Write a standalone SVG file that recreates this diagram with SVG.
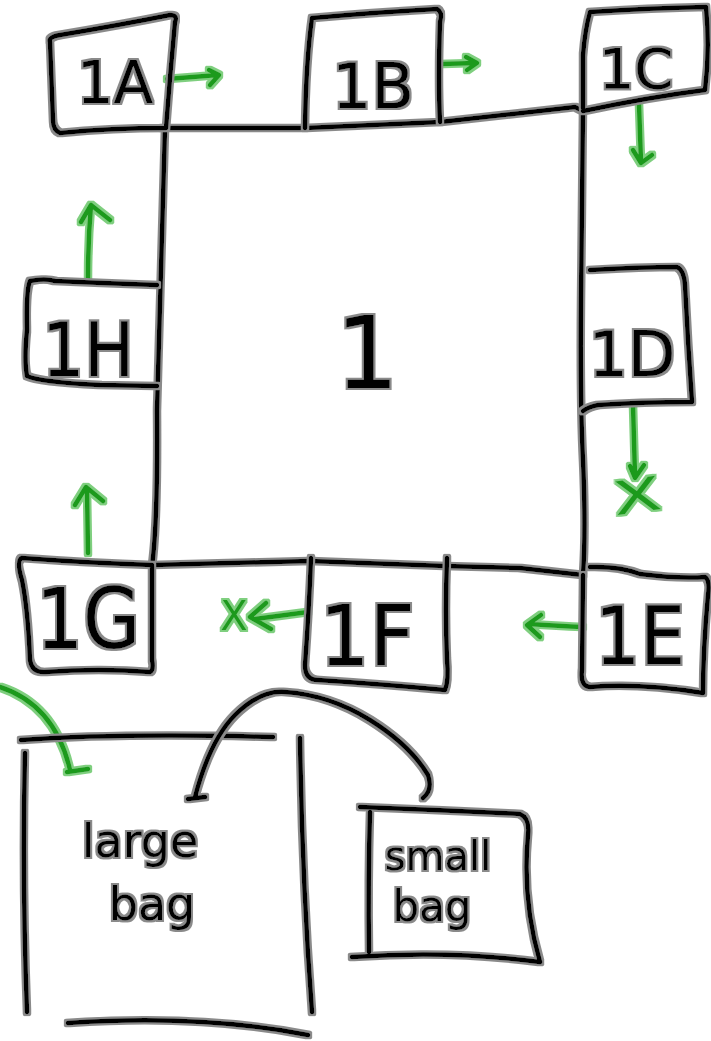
<svg xmlns="http://www.w3.org/2000/svg" width="711" height="1041" viewBox="0 0 711 1041">
<defs>
<filter id="halo" filterUnits="userSpaceOnUse" x="0" y="0" width="711" height="1041">
<feMorphology in="SourceAlpha" operator="dilate" radius="1.6" result="d"/>
<feFlood flood-color="#8a8a8a"/>
<feComposite in2="d" operator="in"/>
<feMerge><feMergeNode/><feMergeNode in="SourceGraphic"/></feMerge>
</filter>
<filter id="ghalo" filterUnits="userSpaceOnUse" x="0" y="0" width="711" height="1041">
<feMorphology in="SourceAlpha" operator="dilate" radius="1.6" result="d"/>
<feFlood flood-color="#7fcf7f"/>
<feComposite in2="d" operator="in"/>
<feMerge><feMergeNode/><feMergeNode in="SourceGraphic"/></feMerge>
</filter>
</defs>
<style>
.k{fill:none;stroke:#000;stroke-width:4.5;stroke-linecap:round;stroke-linejoin:round}
.g{fill:none;stroke:#1c9a1c;stroke-width:4.5;stroke-linecap:round;stroke-linejoin:round}
.t{font-family:"DejaVu Sans","Liberation Sans",sans-serif;fill:#000;text-anchor:middle}
.gt{font-family:"DejaVu Sans","Liberation Sans",sans-serif;fill:#1c9a1c;text-anchor:middle}
</style>
<rect width="711" height="1041" fill="#fff"/>

<g id="connectors" filter="url(#ghalo)">
<path class="g" d="M167,79 L218,75 M209,70 L219,75 L210,85"/>
<path class="g" d="M441,64 L476,63 M466,57 L477,63 L467,70"/>
<path class="g" d="M639,104 Q640,130 641,162 M633,150 L641,163 L652,155"/>
<path class="g" d="M88,279 Q88,240 91,205 M81,222 L91,205 L110,220"/>
<path class="g" d="M633,405 L635,476 M630,466 L635,478 L644,465"/>
<path class="g" d="M88,553 L87,488 M75,505 L86,487 L103,501"/>
<path class="g" d="M308,612 L255,619 M266,603 L250,617 L271,629"/>
<path class="g" d="M583,627 Q560,626 530,624 M541,615 L527,625 L540,637"/>
<path class="g" d="M0,687 Q55,705 70,770 M67,772 L88,769"/>
<text class="gt" x="637" y="512" font-size="46" textLength="48" lengthAdjust="spacingAndGlyphs" transform="rotate(-8 637 495)">X</text>
<text class="gt" x="234" y="630" font-size="40">X</text>
</g>

<g id="main" filter="url(#halo)">
<path class="k" d="M162,128 L305,128 L440,122 L575,107 L583,111"/>
<path class="k" d="M165,128 Q162,250 157,410 Q158,520 152,566"/>
<path class="k" d="M583,108 L581,300 Q580,400 583,460 Q586,530 583,575"/>
<path class="k" d="M152,565 L310,561 L445,566 L520,568 L583,575"/>
<text class="t" x="367" y="388" font-size="100">1</text>
</g>

<g id="n1A" filter="url(#halo)">
<path class="k" d="M50,42 Q48,37 60,35 Q120,25 170,15 Q178,15 175,22 Q170,75 166,128 Q110,128 60,133 Q53,130 53,120 Z"/>
<text class="t" x="115" y="103" font-size="58">1A</text>
</g>
<g id="n1B" filter="url(#halo)">
<path class="k" d="M305,128 Q306,60 312,18 Q380,12 437,9 Q443,12 440,22 Q438,80 440,122"/>
<text class="t" x="373" y="108" font-size="62">1B</text>
</g>
<g id="n1C" filter="url(#halo)">
<path class="k" d="M583,108 L583,55 Q585,30 590,12 Q650,8 706,7 Q710,50 705,90 Q650,97 583,111"/>
<text class="t" x="636" y="88" font-size="56">1C</text>
</g>
<g id="n1D" filter="url(#halo)">
<path class="k" d="M590,270 Q640,267 677,267 Q684,270 685,285 Q688,345 692,402 Q640,402 598,405 Q588,407 583,411"/>
<text class="t" x="632" y="376" font-size="62">1D</text>
</g>
<g id="n1E" filter="url(#halo)">
<path class="k" d="M590,567 Q620,566 640,574 Q680,579 705,577 Q710,580 708,595 Q703,650 703,693 Q640,683 590,687 Q580,686 582,670 L583,575"/>
<text class="t" x="640" y="664" font-size="80" textLength="90" lengthAdjust="spacingAndGlyphs">1E</text>
</g>
<g id="n1F" filter="url(#halo)">
<path class="k" d="M311,558 Q309,610 305,665 Q305,680 318,680 Q380,684 445,690 Q449,680 447,660 Q445,610 447,558"/>
<text class="t" x="367" y="665" font-size="84" textLength="95" lengthAdjust="spacingAndGlyphs">1F</text>
</g>
<g id="n1G" filter="url(#halo)">
<path class="k" d="M152,565 Q90,563 22,558 Q16,560 22,580 Q28,610 30,660 Q32,673 45,672 Q100,668 150,672 Q154,670 152,660 L152,566"/>
<text class="t" x="88" y="648" font-size="84" textLength="104" lengthAdjust="spacingAndGlyphs">1G</text>
</g>
<g id="n1H" filter="url(#halo)">
<path class="k" d="M157,285 Q100,283 55,281 Q45,278 30,281 Q26,290 27,330 Q24,360 27,376 Q40,382 100,385 L157,386"/>
<text class="t" x="88" y="376" font-size="74" textLength="92" lengthAdjust="spacingAndGlyphs">1H</text>
</g>

<g id="largebag" filter="url(#halo)">
<path class="k" d="M21,740 Q120,733 273,737"/>
<path class="k" d="M25,753 Q22,880 27,1012"/>
<path class="k" d="M300,738 Q302,880 312,1012"/>
<path class="k" d="M68,1023 Q200,1014 308,1035"/>
<text class="t" x="140" y="857" font-size="46">large</text>
<text class="t" x="152" y="920" font-size="46">bag</text>
</g>

<g id="smallbag" filter="url(#halo)">
<path class="k" d="M360,807 Q440,810 520,814 Q530,818 528,835 Q522,900 540,962 Q450,950 352,957"/>
<path class="k" d="M370,812 Q368,880 369,952"/>
<text class="t" x="438" y="870" font-size="40">small</text>
<text class="t" x="432" y="921" font-size="42">bag</text>
</g>

<g id="bagconnector" filter="url(#halo)">
<path class="k" d="M195,797 Q210,740 235,715 Q260,690 285,692 Q330,695 370,720 Q410,745 428,775 Q433,790 423,798 M188,799 L205,797"/>
</g>
</svg>
